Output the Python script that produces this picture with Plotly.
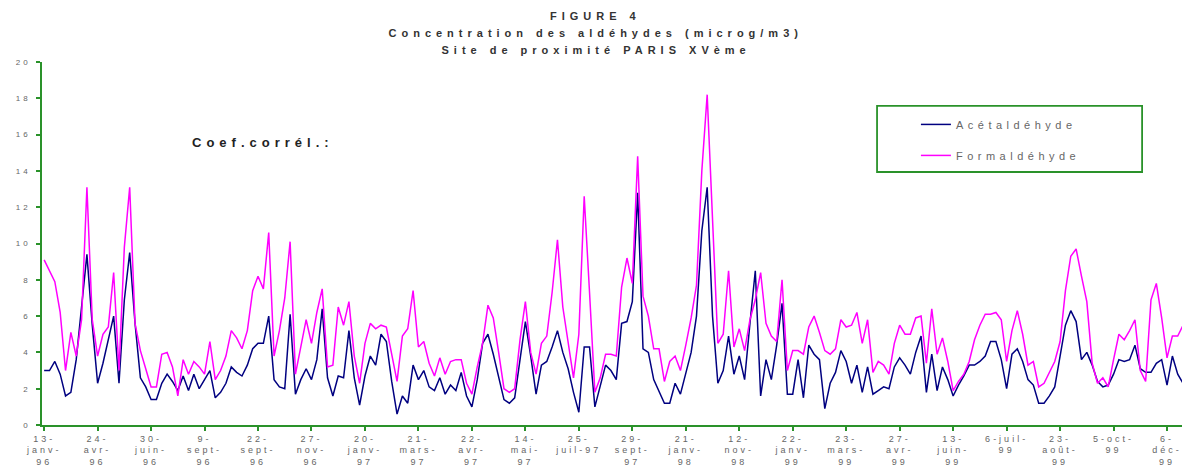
import plotly.graph_objects as go

# Formaldéhyde (µg/m3), one value per sample
form = [9.1, 8.5, 7.9, 6.2, 3.0, 5.1, 3.8, 5.8, 13.1, 5.8, 3.8, 5.0, 5.4, 8.4, 3.0, 9.8, 13.1, 5.6, 4.1, 3.1,
        2.1, 2.1, 3.9, 4.0, 3.2, 1.6, 3.6, 2.8, 3.5, 3.2, 2.8, 4.6, 2.5, 3.0, 3.8, 5.2, 4.8, 4.2, 5.2, 7.4,
        8.2, 7.5, 10.6, 3.8, 5.2,
        7.0, 10.1, 2.8, 4.4, 5.8, 4.5, 6.2, 7.5, 3.2, 3.3, 6.5, 5.5, 6.8, 3.8, 2.3, 4.5, 5.6, 5.3, 5.5, 5.4,
        3.9, 2.4, 4.9, 5.3, 7.4, 4.3, 4.6, 3.4, 2.7, 3.7, 2.8, 3.5, 3.6, 3.6, 2.3, 1.7, 3.2, 4.5, 6.6, 5.9,
        4.0, 2.0, 1.8,
        2.0, 4.7, 6.8, 4.0, 2.8, 4.5, 4.9, 7.3, 10.2, 6.5, 4.5, 2.6, 5.0, 12.6, 7.3, 1.8, 2.6, 3.9, 3.9, 3.8,
        7.6, 9.2, 7.8, 14.8, 7.1, 6.0, 4.2, 4.2, 2.4, 3.5, 3.8, 3.0, 4.4, 5.9, 7.7, 14.0, 18.2, 11.0, 4.5, 5.0,
        8.5, 4.3, 5.3,
        4.1, 5.8, 6.9, 8.4, 5.6, 4.9, 4.6, 8.0, 3.0, 4.1, 4.1, 3.9, 5.4, 6.0, 5.1, 4.1, 3.9, 4.2, 5.8, 5.4,
        5.5, 6.2, 4.5, 5.8, 2.9, 3.5, 3.3, 2.8, 4.5, 5.5, 5.0, 5.0, 5.9, 6.0, 3.4, 6.4, 3.9, 4.8, 3.5, 1.9,
        2.4, 2.8, 3.5,
        4.7, 5.5, 6.1, 6.1, 6.2, 5.8, 3.5, 5.2, 6.3, 5.0, 3.3, 3.5, 2.1, 2.3, 2.9, 3.5, 4.6, 7.4, 9.3, 9.7,
        8.2, 6.8, 3.4, 2.3, 2.6, 2.1, 3.6, 5.0, 4.7, 5.2, 5.8, 3.0, 2.4, 6.9, 7.8, 5.9, 3.7, 4.9, 4.9, 5.5]

# Acétaldéhyde (µg/m3)
acet = [3.0, 3.0, 3.5, 2.8, 1.6, 1.8, 3.6, 6.5, 9.4, 5.5, 2.3, 3.4, 4.7, 6.0, 2.3, 6.9, 9.5, 5.6, 2.6, 2.1,
        1.4, 1.4, 2.3, 2.8, 2.4, 1.9, 2.7, 1.9, 2.8, 2.0, 2.5, 3.0, 1.5, 1.8, 2.3, 3.2, 2.9, 2.7, 3.3, 4.2,
        4.5, 4.5, 6.0, 2.5, 2.1,
        2.0, 6.1, 1.7, 2.5, 3.1, 2.5, 3.6, 6.4, 2.6, 1.6, 2.7, 2.6, 5.2, 2.6, 1.1, 2.7, 3.8, 3.3, 5.0, 4.6,
        2.4, 0.6, 1.6, 1.2, 3.3, 2.5, 3.0, 2.1, 1.9, 2.6, 1.7, 2.2, 1.9, 2.9, 1.6, 1.0, 2.5, 4.5, 5.0, 3.9,
        2.7, 1.4, 1.2,
        1.5, 3.6, 5.7, 3.8, 1.7, 3.3, 3.5, 4.3, 5.2, 4.0, 3.1, 1.8, 0.7, 4.3, 4.3, 1.0, 2.1, 3.3, 3.0, 2.5,
        5.6, 5.7, 6.8, 12.8, 4.2, 4.0, 2.5, 1.8, 1.2, 1.2, 2.3, 1.7, 2.9, 4.0, 6.0, 10.7, 13.1, 6.0, 2.3, 3.0,
        4.9, 2.8, 3.8,
        2.5, 5.6, 8.5, 1.6, 3.6, 2.5, 4.4, 6.7, 1.7, 1.7, 3.6, 1.5, 4.4, 3.9, 3.6, 0.9, 2.3, 2.9, 4.1, 3.5,
        2.3, 3.3, 1.8, 3.2, 1.7, 1.9, 2.1, 2.0, 3.2, 3.7, 3.3, 2.8, 4.0, 4.9, 1.8, 3.9, 1.9, 3.2, 2.5, 1.6,
        2.2, 2.7, 3.3,
        3.3, 3.5, 3.8, 4.6, 4.6, 3.6, 2.0, 3.9, 4.2, 3.5, 2.5, 2.2, 1.2, 1.2, 1.6, 2.1, 3.8, 5.5, 6.3, 5.7,
        3.6, 4.0, 3.3, 2.4, 2.1, 2.2, 2.8, 3.6, 3.5, 3.6, 4.4, 3.1, 2.9, 2.9, 3.4, 3.6, 2.2, 3.8, 2.8, 2.3]

tick_labels = ["13-<br>janv-<br>96", "24-<br>avr-<br>96", "30-<br>juin-<br>96", "9-<br>sept-<br>96",
               "22-<br>sept-<br>96", "27-<br>nov-<br>96", "20-<br>janv-<br>97", "21-<br>mars-<br>97",
               "22-<br>avr-<br>97", "14-<br>mai-<br>97", "25-<br>juil-97", "29-<br>sept-<br>97",
               "21-<br>janv-<br>98", "12-<br>nov-<br>98", "22-<br>janv-<br>99", "23-<br>mars-<br>99",
               "27-<br>avr-<br>99", "13-<br>juin-<br>99", "6-juil-<br>99", "23-<br>août-<br>99",
               "5-oct-<br>99", "6-<br>déc-<br>99"]
tick_step = 10

title_lines = ["FIGURE 4", "Concentration des aldéhydes (microg/m3)", "Site de proximité PARIS XVème"]

x = list(range(len(form)))
tickvals = [k * tick_step for k in range(len(tick_labels))]

GREEN = "#2A922A"
FONT = "Liberation Sans, Arial, sans-serif"

fig = go.Figure()
fig.add_trace(go.Scatter(x=x, y=acet, mode="lines", name="Acétaldéhyde", legendgroup="a",
                         line=dict(color="#000080", width=1.5)))
fig.add_trace(go.Scatter(x=x, y=form, mode="lines", name="Formaldéhyde", legendgroup="f",
                         line=dict(color="#FF00FF", width=1.5)))

fig.update_layout(
    width=1185, height=475,
    margin=dict(l=42, r=3, t=62, b=50),
    paper_bgcolor="white", plot_bgcolor="white",
    font=dict(family=FONT, color="#555"),
    showlegend=True,
    legend=dict(x=0.7666, y=0.868, xanchor="left", yanchor="top", bgcolor="rgba(0,0,0,0)",
                borderwidth=0, font=dict(size=11, color="#666", family=FONT), tracegroupgap=12),
    xaxis=dict(range=[-0.4, 212.8], tickmode="array", tickvals=tickvals, ticktext=tick_labels,
               showline=True, linecolor=GREEN, linewidth=1.5, ticks="outside", ticklen=4,
               tickcolor=GREEN, tickwidth=1.5, showgrid=False, zeroline=False, tickangle=0,
               tickfont=dict(size=9, color="#666")),
    yaxis=dict(range=[0, 20], dtick=2, showline=True, linecolor=GREEN, linewidth=1.5,
               ticks="outside", ticklen=4, tickcolor=GREEN, tickwidth=1.5, showgrid=False,
               zeroline=False, tickfont=dict(size=8, color="#666"), ticklabelstandoff=4),
)

fig.add_shape(type="rect", xref="paper", yref="paper", x0=0.7325, x1=0.965, y0=0.697, y1=0.879,
              line=dict(color=GREEN, width=1.8))

for txt, yy in zip(title_lines, [1.127, 1.080, 1.033]):
    fig.add_annotation(text="<b>" + txt + "</b>", xref="paper", yref="paper", x=0.486, y=yy,
                       xanchor="center", yanchor="middle", showarrow=False,
                       font=dict(size=11, color="#333", family=FONT))

fig.add_annotation(text="<b>Coef.corrél.:</b>", xref="paper", yref="paper", x=0.1298, y=0.777,
                   xanchor="left", yanchor="middle", showarrow=False, align="left",
                   font=dict(size=13, color="#222", family=FONT))

post = """
document.body.style.margin='0';
var gd=document.getElementById('{plot_id}');
gd.querySelectorAll('text').forEach(function(t){ t.style.letterSpacing='4.5px'; });
gd.querySelectorAll('.annotation-text').forEach(function(t){ t.style.letterSpacing='5px'; });
gd.querySelectorAll('.xtick text, .ytick text').forEach(function(t){ t.style.letterSpacing='3px'; });
gd.querySelectorAll('.legend [clip-path]').forEach(function(e){ e.removeAttribute('clip-path'); });
gd.querySelectorAll('.legend .scrollbox').forEach(function(e){ e.removeAttribute('clip-path'); });
"""

fig.write_html("out.html", post_script=post, config={"displayModeBar": False})
